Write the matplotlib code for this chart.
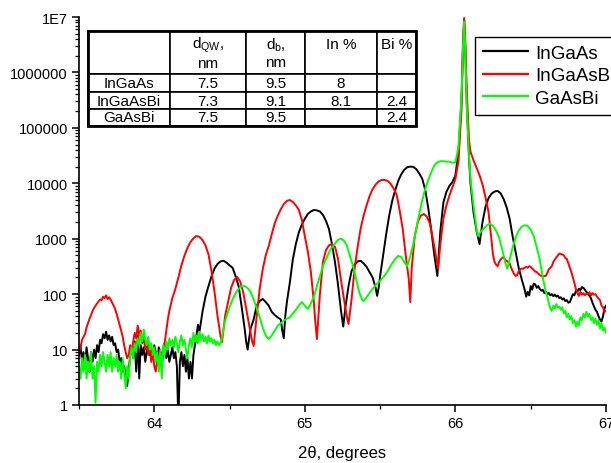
import numpy as np
import matplotlib
matplotlib.use("Agg")
import matplotlib.pyplot as plt
from matplotlib.ticker import LogLocator, MultipleLocator, NullFormatter
from matplotlib.patches import Rectangle

plt.rcParams['font.family'] = ['Liberation Sans', 'DejaVu Sans']
plt.rcParams['mathtext.fontset'] = 'custom'
plt.rcParams['mathtext.rm'] = 'Liberation Sans'
plt.rcParams['mathtext.it'] = 'Liberation Sans:italic'

# (2theta, intensity)
inga_pts = [
    (63.50, 8), (63.51, 12), (63.52, 6), (63.53, 9), (63.54, 5), (63.55, 11), (63.56, 7), (63.57, 4),
    (63.58, 9), (63.59, 6), (63.60, 10), (63.61, 7), (63.62, 12), (63.63, 9), (63.64, 15), (63.65, 13),
    (63.66, 19), (63.67, 16), (63.68, 21), (63.69, 15), (63.70, 18), (63.71, 14), (63.72, 17), (63.73, 12),
    (63.74, 13), (63.75, 9), (63.76, 10), (63.77, 6), (63.78, 7), (63.79, 4), (63.80, 5), (63.81, 3),
    (63.82, 2.2), (63.83, 4), (63.84, 8), (63.85, 11), (63.86, 7), (63.87, 14), (63.88, 4), (63.89, 18),
    (63.90, 3), (63.91, 12), (63.92, 8), (63.93, 11), (63.94, 6), (63.95, 9), (63.96, 13), (63.97, 8),
    (63.98, 10), (63.99, 7), (64.00, 12), (64.01, 9), (64.02, 6), (64.03, 11), (64.04, 8), (64.05, 5),
    (64.06, 9), (64.07, 12), (64.08, 7), (64.09, 10), (64.10, 6), (64.11, 8), (64.12, 11), (64.13, 7),
    (64.14, 9), (64.15, 5), (64.16, 0.5), (64.17, 6), (64.18, 9), (64.19, 5), (64.20, 8), (64.21, 4),
    (64.22, 7), (64.23, 3), (64.24, 6), (64.25, 3), (64.26, 8), (64.27, 12), (64.28, 18), (64.29, 28),
    (64.30, 21), (64.32, 48), (64.34, 90), (64.36, 140), (64.38, 210), (64.40, 290), (64.42, 350),
    (64.44, 390), (64.46, 400), (64.48, 370), (64.50, 330), (64.52, 300), (64.54, 210), (64.56, 140),
    (64.58, 60), (64.60, 24), (64.61, 14), (64.62, 10), (64.63, 16), (64.64, 24), (64.66, 35),
    (64.68, 62), (64.70, 75), (64.72, 82), (64.74, 72), (64.76, 62), (64.78, 48), (64.80, 42),
    (64.82, 38), (64.84, 35), (64.85, 22), (64.86, 16), (64.87, 40), (64.88, 70), (64.90, 160),
    (64.92, 420), (64.94, 800), (64.96, 1300), (64.98, 1800), (65.00, 2300), (65.02, 2800),
    (65.04, 3100), (65.06, 3300), (65.08, 3250), (65.10, 3100), (65.12, 2700), (65.14, 2100),
    (65.16, 1500), (65.18, 800), (65.20, 380), (65.22, 150), (65.24, 50), (65.255, 26), (65.27, 60),
    (65.29, 140), (65.31, 260), (65.33, 340), (65.35, 390), (65.37, 400), (65.39, 360), (65.41, 310),
    (65.43, 250), (65.45, 200), (65.47, 130), (65.48, 93), (65.49, 130), (65.50, 213), (65.52, 500),
    (65.54, 1200), (65.56, 2600), (65.58, 4800), (65.60, 7500), (65.62, 11000), (65.64, 14500),
    (65.66, 17500), (65.68, 19500), (65.70, 20000), (65.72, 19800), (65.74, 18000), (65.76, 15000),
    (65.78, 12000), (65.80, 7500), (65.82, 3500), (65.84, 1400), (65.86, 500), (65.88, 213),
    (65.90, 1400), (65.92, 4500), (65.94, 7000), (65.96, 9000), (65.98, 10500), (66.00, 14000),
    (66.02, 37000), (66.04, 300000), (66.05, 3000000), (66.058, 9000000), (66.065, 3000000),
    (66.075, 300000), (66.09, 30000), (66.10, 10000), (66.12, 3000), (66.14, 1400), (66.16, 800),
    (66.18, 2000), (66.20, 3800), (66.22, 5400), (66.24, 6500), (66.26, 7100), (66.28, 7300),
    (66.30, 6600), (66.32, 5200), (66.34, 3700), (66.36, 2300), (66.38, 1100), (66.40, 580),
    (66.42, 300), (66.44, 187), (66.46, 120), (66.47, 90), (66.48, 110), (66.49, 95), (66.50, 140),
    (66.51, 120), (66.52, 155), (66.53, 150), (66.54, 130), (66.55, 140), (66.56, 124), (66.57, 115),
    (66.58, 120), (66.59, 105), (66.60, 110), (66.61, 100), (66.62, 105), (66.63, 95), (66.64, 100),
    (66.65, 92), (66.66, 98), (66.67, 90), (66.68, 94), (66.69, 85), (66.70, 88), (66.71, 80),
    (66.72, 84), (66.73, 75), (66.74, 78), (66.75, 70), (66.76, 72), (66.77, 85), (66.78, 100),
    (66.79, 95), (66.80, 114), (66.81, 110), (66.82, 125), (66.83, 118), (66.84, 134), (66.85, 130),
    (66.86, 120), (66.87, 110), (66.88, 100), (66.89, 93), (66.90, 85), (66.91, 70), (66.92, 60),
    (66.93, 52), (66.94, 48), (66.95, 40), (66.96, 35), (66.97, 32), (66.98, 40), (66.99, 55),
    (67.00, 62),
]

ingabi_pts = [
    (63.50, 9), (63.51, 11), (63.52, 15), (63.53, 17), (63.54, 19), (63.55, 25), (63.56, 30), (63.57, 36),
    (63.58, 42), (63.59, 50), (63.60, 56), (63.61, 62), (63.62, 68), (63.63, 74), (63.64, 80), (63.65, 78),
    (63.66, 90), (63.67, 85), (63.68, 95), (63.69, 82), (63.70, 88), (63.71, 80), (63.72, 70), (63.73, 62),
    (63.74, 54), (63.75, 44), (63.76, 35), (63.77, 28), (63.78, 22), (63.79, 17), (63.80, 12), (63.81, 9),
    (63.82, 7), (63.83, 8), (63.84, 12), (63.85, 9), (63.86, 14), (63.87, 20), (63.88, 16), (63.89, 27),
    (63.90, 18), (63.91, 22), (63.92, 13), (63.93, 17), (63.94, 10), (63.95, 14), (63.96, 8), (63.97, 12),
    (63.98, 6), (63.99, 9), (64.00, 5), (64.01, 4), (64.02, 7), (64.03, 5), (64.04, 9), (64.05, 8),
    (64.06, 11), (64.07, 14), (64.08, 22), (64.09, 35), (64.10, 50), (64.12, 85), (64.14, 124),
    (64.16, 200), (64.18, 330), (64.20, 490), (64.22, 680), (64.24, 870), (64.26, 1020), (64.28, 1120),
    (64.30, 1080), (64.32, 950), (64.34, 760), (64.36, 520), (64.38, 260), (64.40, 110), (64.42, 40),
    (64.44, 17.6), (64.45, 13.7), (64.47, 40), (64.49, 72), (64.51, 130), (64.53, 180), (64.55, 205),
    (64.57, 170), (64.59, 110), (64.61, 55), (64.63, 28), (64.65, 14), (64.66, 11.6), (64.68, 40),
    (64.70, 124), (64.72, 280), (64.74, 500), (64.76, 740), (64.78, 1200), (64.80, 1900), (64.82, 2600),
    (64.84, 3400), (64.86, 4200), (64.88, 4800), (64.90, 5000), (64.92, 4600), (64.94, 4000),
    (64.96, 3300), (64.98, 2200), (65.00, 1100), (65.02, 580), (65.04, 250), (65.06, 70), (65.07, 30),
    (65.08, 15.5), (65.10, 100), (65.12, 380), (65.14, 620), (65.16, 760), (65.18, 800), (65.20, 720),
    (65.22, 435), (65.24, 180), (65.26, 80), (65.28, 38), (65.29, 29), (65.31, 80), (65.33, 280),
    (65.35, 700), (65.37, 1500), (65.39, 2600), (65.41, 4000), (65.43, 5900), (65.45, 7800),
    (65.47, 9500), (65.49, 10800), (65.51, 11500), (65.53, 11500), (65.55, 11000), (65.57, 9800),
    (65.59, 8000), (65.61, 6200), (65.63, 3200), (65.65, 1500), (65.67, 500), (65.69, 187), (65.70, 72),
    (65.71, 300), (65.73, 1120), (65.75, 2000), (65.77, 2600), (65.79, 2800), (65.81, 2500),
    (65.83, 1900), (65.85, 1000), (65.87, 500), (65.885, 286), (65.90, 800), (65.92, 2300),
    (65.94, 4000), (65.96, 6000), (65.98, 8500), (66.00, 12000), (66.02, 25000), (66.04, 200000),
    (66.05, 3000000), (66.058, 9600000), (66.065, 4000000), (66.075, 500000), (66.09, 60000),
    (66.10, 37000), (66.12, 26000), (66.14, 19000), (66.16, 14000), (66.18, 9500), (66.20, 5500),
    (66.22, 3000), (66.24, 900), (66.25, 500), (66.26, 380), (66.27, 340), (66.28, 320), (66.29, 380),
    (66.30, 420), (66.31, 450), (66.32, 470), (66.33, 420), (66.34, 400), (66.35, 380), (66.36, 360),
    (66.37, 300), (66.38, 260), (66.39, 230), (66.40, 213), (66.41, 220), (66.42, 260), (66.43, 280),
    (66.44, 290), (66.45, 286), (66.46, 300), (66.47, 310), (66.48, 300), (66.49, 320), (66.50, 310),
    (66.51, 290), (66.52, 270), (66.53, 255), (66.54, 250), (66.55, 235), (66.56, 220), (66.57, 215),
    (66.58, 205), (66.59, 213), (66.60, 213), (66.61, 240), (66.62, 280), (66.63, 300), (66.64, 320),
    (66.65, 380), (66.66, 420), (66.67, 460), (66.68, 500), (66.69, 540), (66.70, 530), (66.71, 520),
    (66.72, 500), (66.73, 450), (66.74, 430), (66.75, 360), (66.76, 300), (66.77, 250), (66.78, 200),
    (66.79, 160), (66.80, 124), (66.81, 105), (66.82, 93), (66.83, 110), (66.84, 98), (66.85, 104),
    (66.86, 96), (66.87, 102), (66.88, 100), (66.89, 108), (66.90, 95), (66.91, 104), (66.92, 98),
    (66.93, 100), (66.94, 90), (66.95, 84), (66.96, 78), (66.97, 62), (66.98, 58), (66.99, 48),
    (67.00, 50),
]

gabi_pts = [
    (63.50, 5), (63.51, 3), (63.52, 7), (63.53, 4), (63.54, 8), (63.55, 3), (63.56, 6), (63.57, 4),
    (63.58, 9), (63.59, 3), (63.60, 5), (63.61, 1.1), (63.62, 6), (63.63, 4), (63.64, 8), (63.65, 5),
    (63.66, 9), (63.67, 6), (63.68, 4), (63.69, 8), (63.70, 5), (63.71, 9), (63.72, 4), (63.73, 7),
    (63.74, 5), (63.75, 8), (63.76, 4), (63.77, 6), (63.78, 3), (63.79, 7), (63.80, 4), (63.81, 2),
    (63.82, 5), (63.83, 3), (63.84, 8), (63.85, 11), (63.86, 7), (63.87, 13), (63.88, 9), (63.89, 16),
    (63.90, 12), (63.91, 20), (63.92, 14), (63.93, 23), (63.94, 15), (63.95, 12), (63.96, 17),
    (63.97, 10), (63.98, 13), (63.99, 8), (64.00, 11), (64.01, 6), (64.02, 9), (64.03, 4), (64.04, 10),
    (64.05, 3), (64.06, 12), (64.07, 8), (64.08, 14), (64.09, 10), (64.10, 16), (64.11, 12),
    (64.12, 15), (64.13, 11), (64.14, 17), (64.15, 13), (64.16, 9), (64.17, 14), (64.18, 18),
    (64.19, 12), (64.20, 15), (64.21, 10), (64.22, 7), (64.23, 12), (64.24, 16), (64.25, 11),
    (64.26, 20), (64.27, 14), (64.28, 18), (64.29, 13), (64.30, 21), (64.31, 15), (64.32, 19),
    (64.33, 14), (64.34, 17), (64.35, 13), (64.36, 18), (64.37, 14), (64.38, 16), (64.39, 13),
    (64.40, 15), (64.41, 12), (64.42, 14), (64.43, 12), (64.44, 13), (64.45, 16), (64.46, 24),
    (64.47, 32), (64.48, 40), (64.50, 58), (64.52, 80), (64.54, 105), (64.56, 125), (64.58, 138),
    (64.60, 140), (64.62, 128), (64.64, 110), (64.66, 80), (64.68, 56), (64.70, 38), (64.72, 25),
    (64.74, 18), (64.76, 15.5), (64.78, 18), (64.80, 22), (64.82, 27), (64.84, 30), (64.86, 33),
    (64.88, 36), (64.90, 38), (64.92, 45), (64.94, 52), (64.96, 62), (64.98, 72), (65.00, 62),
    (65.02, 54), (65.04, 68), (65.06, 90), (65.08, 140), (65.10, 210), (65.12, 320), (65.14, 430),
    (65.16, 560), (65.18, 700), (65.20, 820), (65.22, 950), (65.24, 1000), (65.26, 920), (65.28, 740),
    (65.30, 480), (65.32, 320), (65.34, 190), (65.36, 110), (65.38, 80), (65.39, 75), (65.41, 88),
    (65.43, 105), (65.45, 124), (65.47, 145), (65.49, 165), (65.52, 200), (65.55, 260), (65.58, 360),
    (65.60, 430), (65.62, 490), (65.64, 470), (65.66, 380), (65.68, 320), (65.70, 480), (65.72, 800),
    (65.74, 1500), (65.76, 2800), (65.78, 5000), (65.80, 8000), (65.82, 11500), (65.84, 16000),
    (65.86, 21000), (65.88, 24000), (65.90, 25000), (65.92, 25000), (65.94, 24500), (65.96, 24500),
    (65.98, 23500), (66.00, 24000), (66.02, 45000), (66.04, 350000), (66.05, 2500000),
    (66.058, 8300000), (66.065, 2500000), (66.075, 250000), (66.09, 30000), (66.10, 12000),
    (66.12, 4000), (66.14, 1500), (66.15, 1120), (66.17, 1350), (66.19, 1550), (66.21, 1750),
    (66.23, 1850), (66.25, 1700), (66.27, 1400), (66.29, 1050), (66.31, 650), (66.33, 380),
    (66.345, 286), (66.36, 420), (66.38, 700), (66.40, 1050), (66.42, 1400), (66.44, 1650),
    (66.46, 1750), (66.48, 1700), (66.50, 1450), (66.52, 1120), (66.54, 700), (66.56, 420),
    (66.58, 200), (66.60, 110), (66.61, 90), (66.62, 70), (66.63, 55), (66.64, 50), (66.65, 62),
    (66.66, 55), (66.67, 66), (66.68, 58), (66.69, 60), (66.70, 52), (66.71, 58), (66.72, 45),
    (66.73, 50), (66.74, 38), (66.75, 44), (66.76, 35), (66.77, 40), (66.78, 30), (66.79, 34),
    (66.80, 26), (66.81, 32), (66.82, 27), (66.83, 38), (66.84, 34), (66.85, 44), (66.86, 38),
    (66.87, 48), (66.88, 40), (66.89, 44), (66.90, 34), (66.91, 38), (66.92, 30), (66.93, 36),
    (66.94, 28), (66.95, 34), (66.96, 24), (66.97, 30), (66.98, 22), (66.99, 25), (67.00, 20),
]

series_names = ["InGaAs", "InGaAsBi", "GaAsBi"]
series_colors = ["#000000", "#ff0000", "#00ff00"]

ytick_vals = [1, 10, 100, 1000, 10000, 100000, 1000000, 10000000]
ytick_labels = ["1", "10", "100", "1000", "10000", "100000", "1000000", "1E7"]
xtick_vals = [64, 65, 66, 67]

# table
table_header = ["", "d$_{\\mathrm{QW}}$,\nnm", "d$_{\\mathrm{b}}$,\nnm", "In %\n ", "Bi %\n "]
table_rows = [
    ["InGaAs", "7.5", "9.5", "8", ""],
    ["InGaAsBi", "7.3", "9.1", "8.1", "2.4"],
    ["GaAsBi", "7.5", "9.5", "", "2.4"],
]

W, H = 611, 464
fig = plt.figure(figsize=(W / 100, H / 100), dpi=100)
ax = fig.add_axes([79 / W, 1 - 406 / H, 527 / W, 388 / H])

for pts, name, col in zip([inga_pts, ingabi_pts, gabi_pts], series_names, series_colors):
    x, y = np.array(pts).T
    ax.plot(x, y, color=col, lw=1.4, label=name)

ax.set_yscale('log')
ax.set_xlim(63.5, 67)
ax.set_ylim(1, 1e7)
ax.set_yticks(ytick_vals, ytick_labels)
ax.yaxis.set_minor_locator(LogLocator(base=10, subs=range(2, 10), numticks=20))
ax.yaxis.set_minor_formatter(NullFormatter())
ax.set_xticks(xtick_vals)
ax.xaxis.set_minor_locator(MultipleLocator(0.5))
ax.tick_params(which='major', direction='out', length=5, width=1.1, labelsize=10.5, pad=3)
ax.tick_params(which='minor', direction='out', length=3, width=0.9)
for s in ['top', 'right']:
    ax.spines[s].set_visible(False)
for s in ['left', 'bottom']:
    ax.spines[s].set_linewidth(1.2)
ax.set_xlabel("2θ, degrees", fontsize=12, labelpad=11)

# legend sticks out past the right edge, as in the original
leg = ax.legend(loc='upper left', bbox_to_anchor=(475 / W, 1 - 38 / H), bbox_transform=fig.transFigure,
                borderaxespad=0, fontsize=13.5, frameon=True, fancybox=False, framealpha=1,
                edgecolor='black', handlelength=2.4, handletextpad=0.4, labelspacing=0.28,
                borderpad=0.42)
leg.get_frame().set_linewidth(1.0)
for line in leg.get_lines():
    line.set_linewidth(1.6)

col_w = [82, 76, 59, 72, 39]
tbl = ax.table(cellText=[table_header] + table_rows, cellLoc='center',
               colWidths=[w / sum(col_w) for w in col_w],
               bbox=[(88 - 79) / 527, (406 - 127) / 388, 328 / 527, 95 / 388])
tbl.auto_set_font_size(False)
tbl.set_fontsize(11)
tbl.set_zorder(5)
row_h = [43, 18, 17, 17]
for (r, c), cell in tbl.get_celld().items():
    cell.set_height(row_h[r])
    cell.set_linewidth(1.2)
    cell.set_edgecolor('black')
ax.add_patch(Rectangle(((88 - 79) / 527, (406 - 127) / 388), 328 / 527, 95 / 388,
                       transform=ax.transAxes, fill=False, lw=2, ec='black', zorder=6, clip_on=False))

fig.savefig("out.png", dpi=100)
